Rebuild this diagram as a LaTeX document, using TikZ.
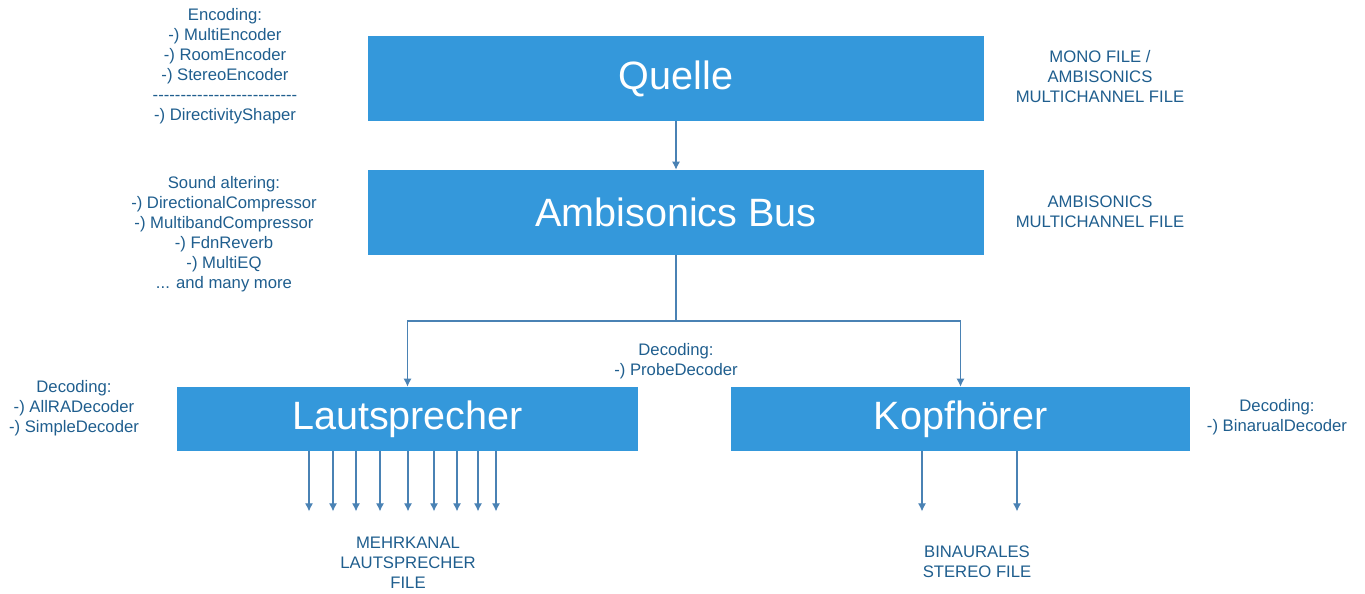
\documentclass[tikz,border=0pt]{standalone}
\usepackage{fontspec}
\setmainfont{Liberation Sans}
\usepackage{tikz}
\usetikzlibrary{
arrows.meta,
positioning,
calc
}
\definecolor{BoxBlue}{HTML}{3498DB}
\definecolor{LabelBlue}{HTML}{1F5E8E}
\definecolor{ArrowBlue}{HTML}{4A82B4}

\begin{document}
\begin{tikzpicture}[x=0.02cm,y=-0.02cm,>=Latex,
        block/.style={rectangle, fill=BoxBlue, text=white, inner sep=0pt, font=\fontsize{22.5}{26}\selectfont},
        note/.style={text=LabelBlue, align=center, inner sep=0pt, font=\fontsize{9.5}{11.4}\selectfont},
        arr/.style={->, draw=ArrowBlue, line width=0.6pt, >={Latex[length=4.5pt,width=4.5pt]}}]
        \useasboundingbox (0,0) rectangle (1365,594);
        % main chain
        \node[block, minimum width=12.32cm, minimum height=1.7cm] (quelle) at (676,78.5) {Quelle};
        \node[block, minimum width=12.32cm, minimum height=1.7cm] (bus) at (676,212.5) {Ambisonics Bus};
        \node[block, minimum width=9.22cm, minimum height=1.28cm] (laut) at (407.5,419) {Lautsprecher};
        \node[block, minimum width=9.18cm, minimum height=1.28cm] (kopf) at (960.5,419) {Kopfhörer};
        \draw[arr] (quelle) -- (bus);
        \coordinate (split) at (676,321);
        \draw[draw=ArrowBlue, line width=0.6pt] (bus.south) -- (split);
        \draw[arr] (split) -| (laut.north);
        \draw[arr] (split) -| (kopf.north);
        % outputs
        \foreach \x in {309,333,356,380,408,434,457,478,496}{
            \draw[arr] (laut.south -| \x,0) -- ++(0,60);
        }
        \foreach \x in {922,1017}{
            \draw[arr] (kopf.south -| \x,0) -- ++(0,60);
        }
        % side notes
        \node[note] (enc) at (225,66) {Encoding:\\-) MultiEncoder\\-) RoomEncoder\\-) StereoEncoder\\-{}-{}-{}-{}-{}-{}-{}-{}-{}-{}-{}-{}-{}-{}-{}-{}-{}-{}-{}-{}-{}-{}-{}-{}-{}-\\-) DirectivityShaper};
        \node[note] (alter) at (224,234) {Sound altering:\\-) DirectionalCompressor\\-) MultibandCompressor\\-) FdnReverb\\-) MultiEQ\\... and many more};
        \node[note] (decl) at (74,408.5) {Decoding:\\-) AllRADecoder\\-) SimpleDecoder};
        \node[note] (decr) at (1277,417.5) {Decoding:\\-) BinarualDecoder};
        \node[note] (decp) at (676,361.5) {Decoding:\\-) ProbeDecoder};
        \node[note] (mono) at (1100,77) {MONO FILE /\\AMBISONICS\\MULTICHANNEL FILE};
        \node[note] (ambi) at (1100,212) {AMBISONICS\\MULTICHANNEL FILE};
        \node[note] (mehr) at (408,563) {MEHRKANAL\\LAUTSPRECHER\\FILE};
        \node[note] (bin) at (977,562) {BINAURALES\\STEREO FILE};
    \end{tikzpicture}
\end{document}
